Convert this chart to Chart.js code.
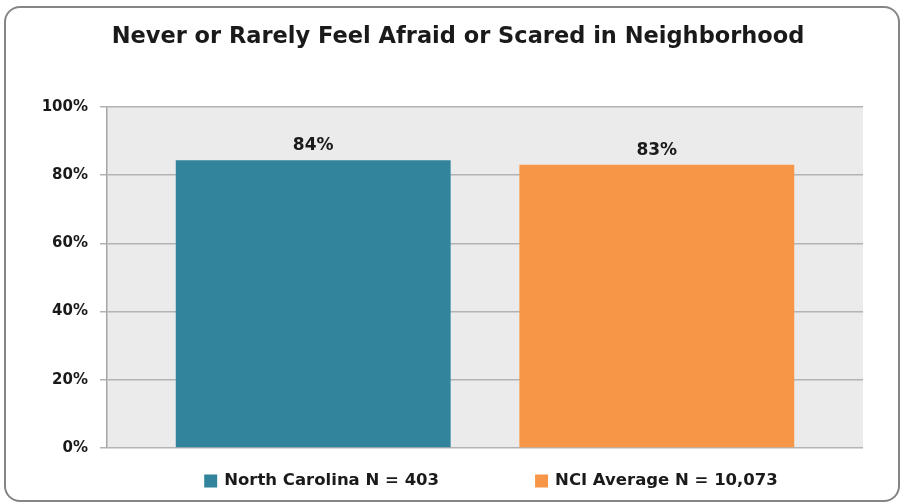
<!DOCTYPE html>
<html>
<head>
<meta charset="utf-8">
<script src="https://cdn.jsdelivr.net/npm/chart.js@4"></script>
<style>
  html, body { margin: 0; padding: 0; background: #fff; }
  #wrap { width: 900px; height: 503px; }
</style>
</head>
<body>
<div id="wrap"><canvas id="chart" width="900" height="503"></canvas></div>
<script>
// one category, two series side by side (as in the original sheet)
const categories = ['Never or Rarely Feel Afraid or Scared'];
const seriesLabels = ['North Carolina N = 403', 'NCI Average N = 10,073'];
const northCarolina = [84.4];
const nciAverage = [83.1];
const yTicks = [0, 20, 40, 60, 80, 100];

const colors = ['#31849b', '#f79646'];

// gray plot background + rounded outer frame
const frame = {
  id: 'frame',
  afterLayout(chart) {
    // let the y tick labels use the space left of the axis box (they get clipped otherwise)
    chart.scales.y.left = 30;
  },
  beforeDraw(chart) {
    const { ctx, chartArea: a } = chart;
    ctx.save();
    ctx.fillStyle = '#ebebeb';
    ctx.fillRect(a.left, a.top, a.right - a.left, a.bottom - a.top);
    ctx.strokeStyle = '#858585';
    ctx.lineWidth = 2;
    ctx.beginPath();
    ctx.roundRect(5, 7, 894, 494, 15);
    ctx.stroke();
    ctx.restore();
  }
};

// value labels above the bars
const valueLabels = {
  id: 'valueLabels',
  afterDatasetsDraw(chart) {
    const { ctx } = chart;
    ctx.save();
    ctx.font = 'bold 17px "DejaVu Sans"';
    ctx.fillStyle = '#1a1a1a';
    ctx.textAlign = 'center';
    ctx.textBaseline = 'bottom';
    chart.data.datasets.forEach((ds, i) => {
      chart.getDatasetMeta(i).data.forEach((el, j) => {
        const v = ds.data[j];
        if (v == null) return;
        ctx.fillText(Math.round(v) + '%', el.x, el.y - 6);
      });
    });
    ctx.restore();
  }
};

// legend row under the plot
const bottomLegend = {
  id: 'bottomLegend',
  afterDraw(chart) {
    const { ctx, chartArea: a } = chart;
    const box = 13, gap = 7, spacing = 96;
    ctx.save();
    ctx.font = 'bold 16.5px "DejaVu Sans"';
    ctx.textBaseline = 'middle';
    const items = chart.data.datasets.map(ds => ({
      text: ds.label, color: ds.backgroundColor,
      w: box + gap + ctx.measureText(ds.label).width
    }));
    const total = items.reduce((s, it) => s + it.w, 0) + spacing * (items.length - 1);
    let x = (a.left + a.right) / 2 + 6 - total / 2;
    const y = 481;
    items.forEach(it => {
      ctx.fillStyle = it.color;
      ctx.fillRect(x, y - box / 2, box, box);
      ctx.fillStyle = '#1a1a1a';
      ctx.fillText(it.text, x + box + gap, y);
      x += it.w + spacing;
    });
    ctx.restore();
  }
};

new Chart(document.getElementById('chart'), {
  type: 'bar',
  data: {
    labels: categories,
    datasets: [
      { label: seriesLabels[0], data: northCarolina, backgroundColor: colors[0] },
      { label: seriesLabels[1], data: nciAverage, backgroundColor: colors[1] }
    ]
  },
  options: {
    responsive: false,
    animation: false,
    layout: { padding: { top: 8, left: 53, right: 37, bottom: 55 } },
    datasets: {
      bar: { barPercentage: 0.8, categoryPercentage: 0.909 }
    },
    plugins: {
      legend: { display: false },
      tooltip: { enabled: false },
      title: {
        display: true,
        text: 'Never or Rarely Feel Afraid or Scared in Neighborhood',
        color: '#1a1a1a',
        font: { family: 'DejaVu Sans', size: 22.5, weight: 'bold' },
        padding: { top: 15.5, bottom: 56.5 }
      }
    },
    scales: {
      x: { display: false },
      y: {
        min: 0,
        max: 100,
        afterBuildTicks(axis) { axis.ticks = yTicks.map(v => ({ value: v })); },
        afterFit(axis) { axis.width = 54; },
        ticks: {
          color: '#1a1a1a',
          font: { family: 'DejaVu Sans', size: 15, weight: 'bold' },
          padding: 12,
          callback: v => v + '%'
        },
        grid: { color: '#b3b3b3', lineWidth: 1.5, tickLength: 7 },
        border: { color: '#a6a6a6', width: 1.5 }
      }
    }
  },
  plugins: [frame, valueLabels, bottomLegend]
});
</script>
</body>
</html>
